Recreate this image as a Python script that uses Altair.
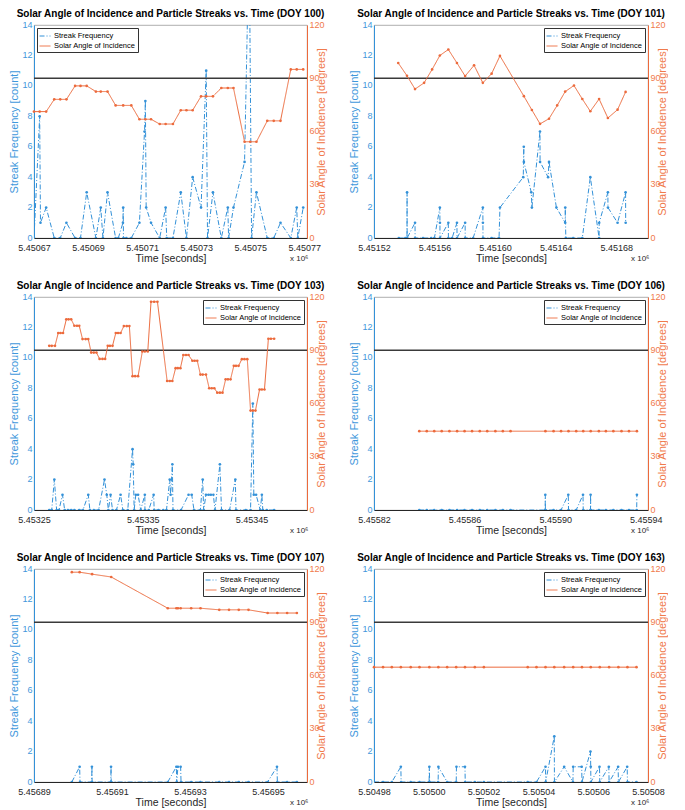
import altair as alt
import pandas as pd

FONT = "Liberation Sans"
BLUE = "#3391D8"
ORANGE = "#EC6A3C"
BLUE_TXT = "#3F98DC"
ORANGE_TXT = "#F07A4C"
DARK = "#262626"
SERIES = ["Streak Frequency", "Solar Angle of Incidence"]
THRESH_COUNT = 10.5

# ---------------- DOY 100 ----------------
d100_t0 = 5450670
d100_streak_dt = [0.0, 2.1, 2.4, 4.5, 7.5, 9.7, 12.0, 15.2, 17.2, 19.5, 22.9, 24.7, 25.5, 27.2, 30.2, 31.2,
                  32.9, 33.0, 33.1, 34.2, 36.0, 39.0, 40.9, 41.2, 41.5, 43.3, 46.5, 48.7, 49.1, 51.4, 54.3,
                  56.4, 58.7, 61.8, 63.7, 64.2, 66.2, 69.3, 71.7, 72.0, 73.8, 77.9, 79.6, 80.5, 82.3, 86.3,
                  88.7, 91.2, 95.0, 97.2, 97.6, 99.6]
d100_streak_n = [0, 8, 1, 2, 0, 0, 1, 0, 0, 3, 0, 2, 0, 3, 0, 0, 1, 2, 0, 0, 0, 1, 7, 9, 2, 1, 0, 2, 0, 0,
                 3, 0, 4, 2, 11, 0, 3, 0, 2, 0, 2, 5, 20, 0, 3, 0, 0, 1, 0, 2, 0, 2]
d100_angle_dt = [0.0, 2.1, 4.5, 7.5, 9.7, 12.0, 15.2, 17.2, 19.5, 22.9, 24.7, 27.2, 30.2, 33.0, 36.0,
                 39.0, 41.2, 43.3, 46.5, 48.7, 51.4, 54.3, 56.4, 58.7, 61.8, 63.7, 66.2, 69.3, 71.7, 73.8,
                 77.9, 80.0, 82.3, 86.3, 88.7, 91.2, 95.0, 97.2, 99.6]
d100_angle_deg = [71.2, 71.2, 71.2, 78.1, 78.1, 78.1, 85.7, 85.7, 85.7, 82.5, 82.5, 82.5, 74.7, 74.7, 74.7,
                  66.9, 66.9, 66.9, 64.2, 64.2, 64.2, 72.0, 72.0, 72.0, 79.8, 79.8, 79.8, 84.5, 84.5, 84.5,
                  54.2, 54.2, 54.2, 66.0, 66.0, 66.0, 95.0, 95.0, 95.0]
d100_domain = [5450670, 5450771]
d100_ticks = [5450670, 5450690, 5450710, 5450730, 5450750, 5450770]

# ---------------- DOY 101 ----------------
d101_t0 = 5451520
d101_streak_dt = [16.4, 20.7, 21.8, 21.85, 21.9, 27.1, 27.15, 32.4, 37.8, 39.9, 43.5, 43.55, 43.6, 49.1,
                  49.15, 51.6, 54.8, 54.85, 60.2, 60.25, 65.5, 71.9, 71.95, 72.0, 77.7, 82.6, 83.2, 98.6,
                  98.95, 99.0, 103.9, 104.3, 109.65, 109.7, 115.0, 115.6, 120.5, 126.3, 126.35, 126.7,
                  131.6, 137.6, 142.9, 148.7, 148.75, 154.5, 154.55, 160.9, 166.2, 166.25]
d101_streak_n = [0, 0, 0, 3, 0, 1, 0, 0, 0, 0, 2, 1, 0, 1, 0, 0, 1, 0, 1, 0, 0, 2, 1, 0, 0, 0, 2, 4, 6, 5,
                 3, 2, 7, 5, 4, 5, 2, 1, 2, 0, 0, 0, 4, 0, 1, 3, 2, 1, 3, 1]
d101_angle_dt = [16.0, 21.8, 27.1, 33.1, 38.4, 43.5, 49.1, 54.8, 60.2, 66.1, 71.9, 77.7, 83.2, 99.0, 104.3,
                 109.7, 115.6, 121.0, 126.3, 132.1, 137.6, 142.9, 148.7, 154.5, 160.9, 166.2]
d101_angle_deg = [98.6, 91.4, 83.9, 87.4, 95.0, 102.8, 106.2, 98.6, 91.2, 97.3, 87.4, 92.6, 102.6, 79.9,
                  72.1, 64.3, 67.2, 74.7, 82.5, 85.9, 78.3, 71.4, 78.3, 67.6, 72.3, 82.3]
d101_domain = [5451520, 5451701]
d101_ticks = [5451520, 5451560, 5451600, 5451640, 5451680]

# ---------------- DOY 103 ----------------
d103_t0 = 5453250
d103_streak_dt = [14.0, 16.3, 18.7, 20.8, 23.0, 26.2, 28.2, 31.2, 34.2, 37.1, 41.6, 45.0, 49.9, 51.4, 55.0,
                  59.4, 64.8, 66.9, 68.4, 70.4, 72.2, 75.8, 79.6, 81.7, 86.2, 90.6, 91.2, 92.1, 93.6, 95.7,
                  98.1, 101.9, 102.0, 105.5, 110.0, 110.5, 114.4, 118.9, 121.8, 124.8, 125.6, 127.2, 127.8,
                  135.2, 142.1, 145.0, 147.1, 153.0, 155.1, 156.0, 158.1, 160.5, 162.6, 164.9, 166.4, 170.9,
                  172.4, 179.8, 185.1, 185.7, 194.7, 199.1, 201.2, 202.1, 204.2, 208.0, 209.5, 210.4, 214.0,
                  220.8]
d103_streak_n = [0, 0, 2, 0, 0, 1, 0, 0, 0, 0, 0, 0, 1, 0, 0, 0, 2, 1, 0, 1, 0, 0, 1, 0, 0, 4, 3, 0, 1, 1,
                 0, 1, 0, 0, 1, 0, 0, 0, 0, 2, 1, 3, 0, 0, 1, 1, 0, 0, 2, 0, 1, 1, 1, 1, 0, 3, 0, 0, 2, 0,
                 0, 0, 7, 1, 1, 0, 1, 0, 0, 0]
d103_angle_dt = [14.0, 16.3, 19.3, 22.3, 24.4, 26.7, 29.7, 31.8, 34.2, 37.1, 39.5, 41.6, 44.6, 47.5, 49.9,
                 52.6, 55.0, 57.4, 60.3, 63.0, 65.4, 67.8, 69.8, 72.2, 75.2, 77.3, 79.6, 82.6, 85.3, 87.7,
                 90.6, 93.0, 95.7, 99.6, 101.9, 104.6, 107.6, 110.5, 113.5, 122.4, 124.8, 127.2, 130.2,
                 132.2, 134.6, 137.3, 139.7, 142.1, 145.6, 147.7, 150.1, 153.0, 155.1, 158.1, 161.1, 163.4,
                 165.8, 168.5, 170.9, 173.3, 176.2, 178.3, 180.7, 183.7, 185.7, 188.1, 191.1, 193.5, 196.1,
                 199.1, 201.2, 203.6, 207.4, 209.5, 211.9, 215.5, 217.8, 220.8]
d103_angle_deg = [92.5, 92.5, 92.5, 99.7, 99.7, 99.7, 107.4, 107.4, 107.4, 103.8, 103.8, 103.8,
                  96.3, 96.3, 96.3, 88.7, 88.7, 88.7, 85.1, 85.1, 85.1, 92.5, 92.5, 92.5,
                  99.7, 99.7, 99.7, 103.6, 103.6, 103.6, 75.4, 75.4, 75.4, 89.3, 89.3, 89.3,
                  117.3, 117.3, 117.3, 72.7, 72.7, 72.7, 79.9, 79.9, 79.9, 87.3, 87.3, 87.3,
                  84.1, 84.1, 84.1, 76.3, 76.3, 76.3, 68.6, 68.6, 68.6, 66.1, 66.1, 66.1,
                  73.6, 73.6, 73.6, 81.2, 81.2, 81.2, 85.0, 85.0, 85.0, 56.0, 56.0, 56.0,
                  67.9, 67.9, 67.9, 96.5, 96.5, 96.5]
d103_domain = [5453250, 5453501]
d103_ticks = [5453250, 5453350, 5453450]

# ---------------- DOY 106 ----------------
d106_t0 = 5455820
d106_streak_dt = [20.0, 23.3, 26.6, 29.9, 33.3, 36.7, 40.0, 43.3, 46.7, 50.0, 53.6, 56.9, 60.3, 75.6, 75.65,
                  75.7, 79.3, 82.6, 85.8, 85.9, 89.3, 92.3, 92.4, 95.6, 95.65, 95.7, 99.3, 102.4, 105.7,
                  109.3, 112.6, 116.0, 116.1]
d106_streak_n = [0, 0, 0, 0, 0, 0, 0, 0, 0, 0, 0, 0, 0, 0, 1, 0, 0, 0, 1, 0, 0, 1, 0, 0, 1, 0, 0, 0, 0, 0,
                 0, 0, 1]
d106_angle_dt = [20.0, 23.3, 26.6, 29.9, 33.3, 36.7, 40.0, 43.3, 46.7, 50.0, 53.6, 56.9, 60.3, 75.7, 79.3,
                 82.6, 85.9, 89.3, 92.4, 95.7, 99.3, 102.4, 105.7, 109.3, 112.6, 116.1]
d106_angle_deg = [44.4, 44.4, 44.4, 44.4, 44.4, 44.4, 44.4, 44.4, 44.4, 44.4, 44.4, 44.4, 44.4, 44.4, 44.4,
                  44.4, 44.4, 44.4, 44.4, 44.4, 44.4, 44.4, 44.4, 44.4, 44.4, 44.4]
d106_domain = [5455820, 5455941]
d106_ticks = [5455820, 5455860, 5455900, 5455940]

# ---------------- DOY 107 ----------------
d107_t0 = 5456890
d107_streak_dt = [9.7, 11.7, 11.8, 14.8, 14.85, 14.9, 19.7, 19.75, 19.8, 34.3, 36.5, 36.6, 36.9, 37.6, 37.7,
                  40.3, 42.7, 47.5, 50.0, 52.5, 55.0, 59.9, 62.3, 62.4, 64.9, 67.4]
d107_streak_n = [0, 1, 0, 0, 1, 0, 0, 1, 0, 0, 1, 0, 1, 1, 0, 0, 0, 0, 0, 0, 0, 0, 1, 0, 0, 0]
d107_angle_dt = [9.7, 11.7, 14.9, 19.8, 34.3, 36.5, 36.9, 37.6, 40.3, 42.7, 47.5, 50.0, 52.5, 55.0, 59.9,
                 62.4, 64.9, 67.4]
d107_angle_deg = [118.2, 118.2, 117.1, 115.5, 97.9, 97.9, 97.9, 97.9, 97.9, 97.9, 97.0, 97.0, 97.0, 97.0,
                  95.2, 95.2, 95.2, 95.2]
d107_domain = [5456890, 5456960]
d107_ticks = [5456890, 5456910, 5456930, 5456950]

# ---------------- DOY 163 ----------------
d163_t0 = 5504980
d163_streak_dt = [0.0, 3.3, 6.5, 9.8, 9.9, 13.4, 16.6, 20.1, 20.2, 20.3, 23.4, 23.5, 26.7, 30.0, 30.1, 33.2,
                  33.3, 36.8, 40.1, 56.1, 59.3, 62.6, 62.65, 65.8, 65.85, 69.4, 72.6, 72.7, 75.8, 75.9, 79.0,
                  79.1, 79.15, 82.3, 82.4, 85.7, 85.8, 89.1, 89.2, 92.4, 92.5, 95.8]
d163_streak_n = [0, 0, 0, 1, 0, 0, 0, 0, 1, 0, 0, 1, 0, 0, 1, 1, 0, 0, 0, 0, 0, 1, 0, 3, 0, 1, 0, 1, 1, 0,
                 2, 1, 0, 1, 0, 1, 0, 1, 0, 1, 0, 0]
d163_angle_dt = [0.0, 3.3, 6.5, 9.8, 13.4, 16.6, 20.2, 23.5, 26.7, 30.0, 33.2, 36.8, 40.1, 56.1, 59.3, 62.6,
                 65.8, 69.4, 72.7, 75.9, 79.1, 82.4, 85.8, 89.2, 92.5, 95.8]
d163_angle_deg = [64.7, 64.7, 64.7, 64.7, 64.7, 64.7, 64.7, 64.7, 64.7, 64.7, 64.7, 64.7, 64.7, 64.7, 64.7,
                  64.7, 64.7, 64.7, 64.7, 64.7, 64.7, 64.7, 64.7, 64.7, 64.7, 64.7]
d163_domain = [5504980, 5505080]
d163_ticks = [5504980, 5505000, 5505020, 5505040, 5505060, 5505080]

H = 213
W_LEFT = 273
W_RIGHT = 274


def panel(doy, t0, sdt, sn, adt, adeg, domain, ticks, w, legend_orient):
    s = pd.DataFrame({"t": [t0 + v for v in sdt], "count": sn, "series": SERIES[0],
                      "i": list(range(len(sn)))})
    a = pd.DataFrame({"t": [t0 + v for v in adt], "angle": adeg, "series": SERIES[1],
                      "i": list(range(len(adeg)))})
    thr = pd.DataFrame({"count": [THRESH_COUNT]})
    lab = pd.DataFrame({"lab": ["x 10\u2076"]})

    xenc = alt.X("t:Q", scale=alt.Scale(domain=domain, nice=False, zero=False),
                 axis=alt.Axis(values=ticks, labelExpr="format(datum.value/1e6, '.5f')",
                               title="Time [seconds]", titleFontSize=10.5, titlePadding=1,
                               labelPadding=5, domainColor=DARK, labelColor=DARK, titleColor=DARK,
                               labelFlush=False, labelOverlap=False))
    leg = alt.Legend(orient=legend_orient, title=None, strokeColor="#333333", fillColor="white",
                     padding=2, offset=3, labelFontSize=7.5, labelFont=FONT, symbolType="stroke",
                     symbolSize=120, symbolStrokeWidth=1, rowPadding=0, labelOffset=3,
                     labelColor="black", labelLimit=200)
    color = alt.Color("series:N", scale=alt.Scale(domain=SERIES, range=[BLUE, ORANGE]), legend=leg)
    dash = alt.StrokeDash("series:N", scale=alt.Scale(domain=SERIES, range=[[5, 2, 1, 2], [1, 0]]),
                          legend=leg)
    yleft_axis = alt.Axis(values=[0, 2, 4, 6, 8, 10, 12, 14], title="Streak Frequency [count]",
                          titleColor=BLUE_TXT, labelColor=BLUE_TXT, domainColor=BLUE,
                          labelPadding=2, titlePadding=2, labelFlush=False, labelOffset=-1)
    yleft = alt.Y("count:Q", scale=alt.Scale(domain=[0, 14], nice=False), axis=yleft_axis)

    streak = alt.Chart(s).mark_line(
        strokeWidth=1, clip=True,
        point=alt.OverlayMarkDef(size=7, filled=True, clip=True)
    ).encode(x=xenc, y=yleft, color=color, strokeDash=dash, order="i:Q")
    rule = alt.Chart(thr).mark_rule(color="#3a3a3a", strokeWidth=1.3).encode(y=yleft)
    note = alt.Chart(lab).mark_text(align="left", baseline="top", fontSize=8, font=FONT,
                                    color=DARK).encode(
        x=alt.value(w - 17), y=alt.value(H + 17), text="lab:N")

    angle = alt.Chart(a).mark_line(
        strokeWidth=1, point=alt.OverlayMarkDef(size=7, filled=True)
    ).encode(
        x=xenc,
        y=alt.Y("angle:Q", scale=alt.Scale(domain=[0, 120], nice=False),
                axis=alt.Axis(orient="right", values=[0, 30, 60, 90, 120],
                              title="Solar Angle of Incidence [degrees]", titleAngle=270,
                              titleColor=ORANGE_TXT, labelColor=ORANGE_TXT, domainColor=ORANGE,
                              labelPadding=2, titlePadding=2, labelFlush=False, labelOffset=-1)),
        color=color, strokeDash=dash, order="i:Q")

    left = alt.layer(streak, rule, note)
    return alt.layer(left, angle).resolve_scale(y="independent").properties(
        width=w, height=H,
        title=alt.TitleParams(
            f"Solar Angle of Incidence and Particle Streaks vs. Time (DOY {doy})"))


p100 = panel(100, d100_t0, d100_streak_dt, d100_streak_n, d100_angle_dt, d100_angle_deg,
             d100_domain, d100_ticks, W_LEFT, "top-left")
p101 = panel(101, d101_t0, d101_streak_dt, d101_streak_n, d101_angle_dt, d101_angle_deg,
             d101_domain, d101_ticks, W_RIGHT, "top-right")
p103 = panel(103, d103_t0, d103_streak_dt, d103_streak_n, d103_angle_dt, d103_angle_deg,
             d103_domain, d103_ticks, W_LEFT, "top-right")
p106 = panel(106, d106_t0, d106_streak_dt, d106_streak_n, d106_angle_dt, d106_angle_deg,
             d106_domain, d106_ticks, W_RIGHT, "top-right")
p107 = panel(107, d107_t0, d107_streak_dt, d107_streak_n, d107_angle_dt, d107_angle_deg,
             d107_domain, d107_ticks, W_LEFT, "top-right")
p163 = panel(163, d163_t0, d163_streak_dt, d163_streak_n, d163_angle_dt, d163_angle_deg,
             d163_domain, d163_ticks, W_RIGHT, "top-right")

RES = dict(x="independent", y="independent", color="independent", strokeDash="independent")
row1 = alt.hconcat(p100, p101, spacing=67, bounds="flush").resolve_scale(**RES)
row2 = alt.hconcat(p103, p106, spacing=67, bounds="flush").resolve_scale(**RES)
row3 = alt.hconcat(p107, p163, spacing=67, bounds="flush").resolve_scale(**RES)

chart = alt.vconcat(row1, row2, row3, spacing=16).resolve_scale(**RES).properties(
    padding=0
).configure_view(
    stroke="#9a9a9a", strokeWidth=0.8
).configure_axis(
    labelFont=FONT, titleFont=FONT, labelFontSize=9, titleFontSize=11, titleFontWeight="normal",
    grid=False, ticks=False
).configure_title(
    font=FONT, fontSize=10, fontWeight="bold", anchor="middle", offset=1, color="black"
)

chart.save("out.html", embed_options={"renderer": "svg", "actions": False})
